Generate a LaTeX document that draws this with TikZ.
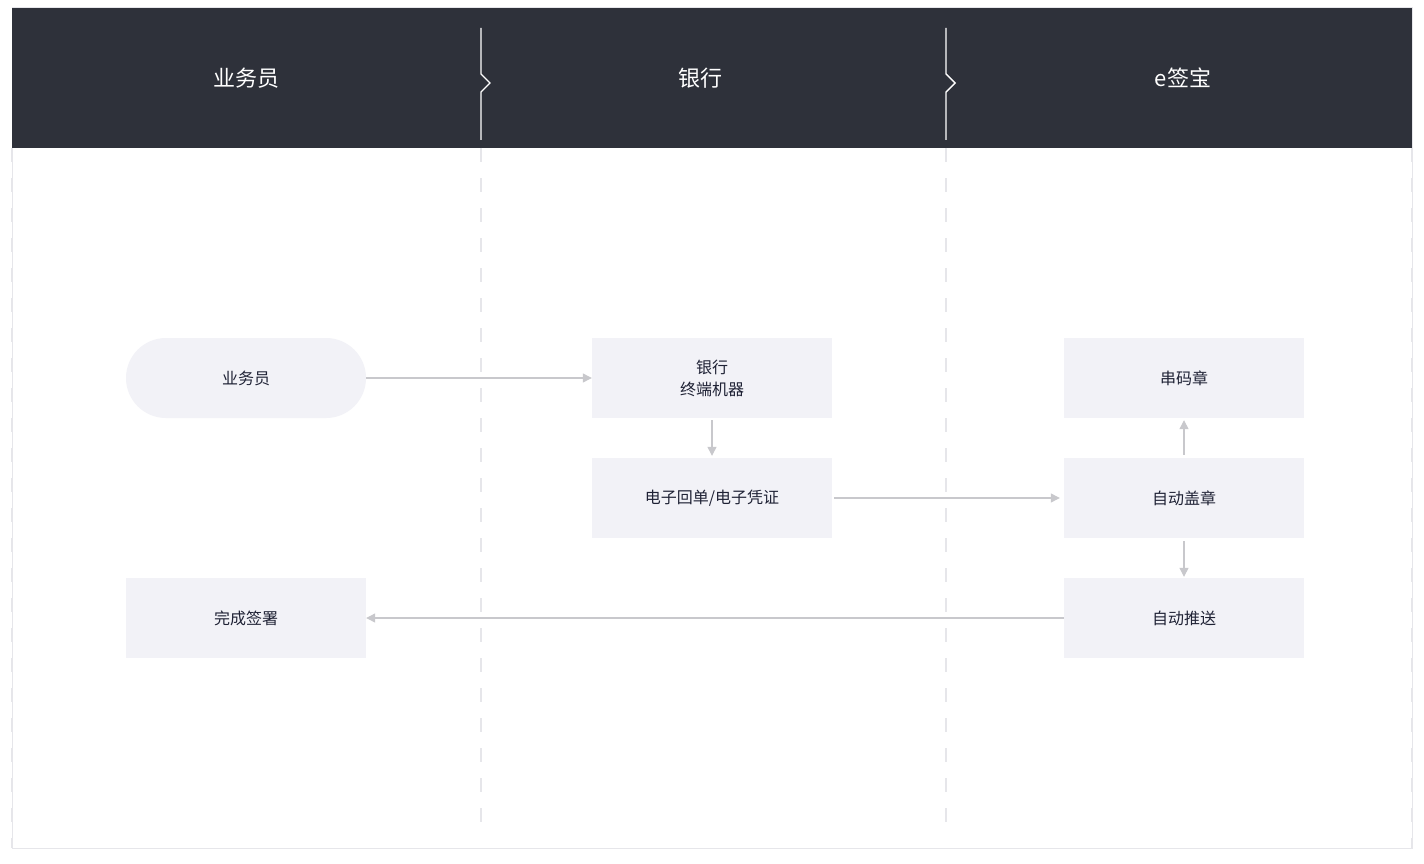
\documentclass[tikz,border=0pt]{standalone}
\usepackage{fontspec}
\setmainfont{Noto Sans CJK SC}
\usetikzlibrary{arrows.meta}
\definecolor{headbg}{HTML}{2E313A}
\definecolor{boxbg}{HTML}{F2F2F7}
\definecolor{ink}{HTML}{1F2235}
\definecolor{wire}{HTML}{C8C8CC}
\definecolor{lanegrey}{HTML}{E6E6EA}
\begin{document}
\begin{tikzpicture}[x=1pt, y=-1pt,
    stepbox/.style={rectangle, fill=boxbg, minimum width=240pt, minimum height=80pt,
      text=ink, font=\fontsize{16}{22}\selectfont, align=center, inner sep=0pt},
    pill/.style={stepbox, rounded corners=40pt},
    flow/.style={draw=wire, line width=1.2pt, -{Triangle[length=9pt, width=9pt]}},
    lane/.style={draw=lanegrey, line width=1.2pt, dash pattern=on 14pt off 16pt},
    headtext/.style={text=white, font=\fontsize{22}{26}\selectfont}
    ]
    \useasboundingbox (0,0) rectangle (1424,864);
    % panel and header
    \fill[white] (0,0) rectangle (1424,864);
    \draw[lanegrey, line width=1pt] (12,8) rectangle (1412,848);
    \fill[headbg] (12,8) rectangle (1412,148);
    \foreach \x in {481,946} {
      \draw[white, line width=1.4pt] (\x,28) -- (\x,74) -- (\x+9,83) -- (\x,92) -- (\x,140);
      \draw[lane] (\x,148) -- (\x,838);
    }
    \draw[lane] (12,148) -- (12,848);
    \draw[lane] (1412,148) -- (1412,848);
    \node[headtext] (h1) at (246,78) {业务员};
    \node[headtext] (h2) at (700,78) {银行};
    \node[headtext] (h3) at (1183,78) {e签宝};
    % nodes
    \node[pill] (staff) at (246,378) {业务员};
    \node[stepbox] (terminal) at (712,378) {银行\\终端机器};
    \node[stepbox] (receipt) at (712,498) {电子回单/电子凭证};
    \node[stepbox] (serial) at (1184,378) {串码章};
    \node[stepbox] (autoseal) at (1184,498) {自动盖章};
    \node[stepbox] (autopush) at (1184,618) {自动推送};
    \node[stepbox] (done) at (246,618) {完成签署};
    % connectors
    \draw[flow] (staff) -- (terminal);
    \draw[flow, shorten <=2pt, shorten >=2pt] (terminal) -- (receipt);
    \draw[flow, shorten <=2pt, shorten >=4pt] (receipt) -- (autoseal);
    \draw[flow, shorten <=3pt, shorten >=2pt] (autoseal) -- (serial);
    \draw[flow, shorten <=3pt, shorten >=1pt] (autoseal) -- (autopush);
    \draw[flow] (autopush) -- (done);
\end{tikzpicture}
\end{document}
